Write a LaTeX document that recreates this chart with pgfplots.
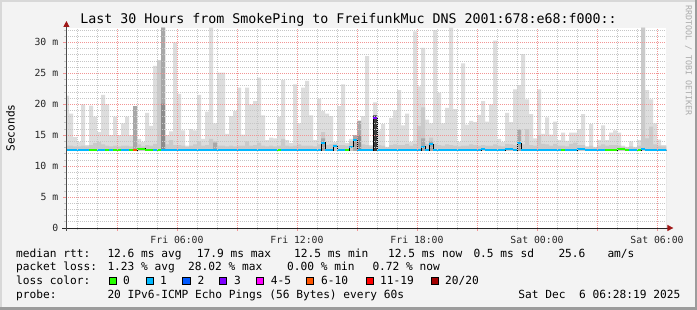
\documentclass[border=0pt]{standalone}
\usepackage{fontspec}
\setmainfont{DejaVu Sans Mono}
\usepackage{pgfplots}
\pgfplotsset{compat=1.18}
\usepackage{pgfplotstable}
\usetikzlibrary{arrows.meta}

\definecolor{bgc}{HTML}{F3F3F3}
\definecolor{frameL}{HTML}{D8D8D8}
\definecolor{frameD}{HTML}{9C9C9C}
\definecolor{smokeA}{HTML}{DDDDDD}
\definecolor{smokeB}{HTML}{CACACA}
\definecolor{smokeC}{HTML}{A8A8A8}
\definecolor{smokeD}{HTML}{8C8C8C}
\definecolor{smokeE}{HTML}{3C3C3C}
\definecolor{lblue}{HTML}{00B8FF}
\definecolor{lgreen}{HTML}{26FF00}
\definecolor{lblue2}{HTML}{0059FF}
\definecolor{lviolet}{HTML}{7E00FF}
\definecolor{lmag}{HTML}{FF00FF}
\definecolor{lorange}{HTML}{FF5500}
\definecolor{lred}{HTML}{FF0000}
\definecolor{ldred}{HTML}{A10000}
\definecolor{mgrid}{HTML}{F29595}
\definecolor{ngrid}{HTML}{C6C6C6}
\definecolor{arrowred}{HTML}{A01818}
\definecolor{rrdgray}{HTML}{ABABAB}

\newcommand\lf{\fontsize{11.2}{13}\selectfont}

\pgfplotstableread{
x mx md dk dkk vd med
0.4 21.4 13.3 0 0 0 12.55
0.6 18.5 13.3 0 0 0 12.55
0.8 14.7 13.2 0 0 0 12.55
1.0 13.9 13.2 0 0 0 12.55
1.2 20.0 13.3 0 0 0 12.55
1.4 13.4 13.2 0 0 0 12.55
1.6 19.8 13.4 0 0 0 12.55
1.8 18.0 13.7 0 0 0 12.55
2.0 15.5 13.9 0 0 0 12.55
2.2 21.5 13.5 0 0 0 12.55
2.4 20.0 13.3 0 0 0 12.55
2.6 15.0 13.2 0 0 0 12.55
2.8 18.0 13.3 0 0 0 12.55
3.0 15.0 13.2 0 0 0 12.55
3.2 16.9 13.3 0 0 0 12.55
3.4 18.0 13.3 0 0 0 12.55
3.6 15.0 13.2 0 0 0 12.55
3.8 19.7 19.7 19.7 0 0 12.6
4.0 14.4 13.5 0 0 0 12.8
4.2 13.9 13.2 0 0 0 12.8
4.4 18.6 13.4 0 0 0 12.55
4.6 16.5 13.3 0 0 0 12.55
4.8 26.2 13.6 0 0 0 12.55
5.0 27.1 27.1 0 0 0 12.55
5.2 32.4 32.4 32.4 20.1 0 12.55
5.4 15.0 13.5 0 0 0 12.55
5.6 15.6 14.2 0 0 0 12.55
5.8 30.0 13.4 0 0 0 12.55
6.0 21.7 13.4 0 0 0 12.55
6.2 15.8 13.3 0 0 0 12.55
6.4 13.3 13.1 0 0 0 12.55
6.6 16.0 13.3 0 0 0 12.55
6.8 15.8 13.5 0 0 0 12.55
7.0 21.5 14.0 0 0 0 12.55
7.2 14.4 13.3 0 0 0 12.55
7.4 18.8 13.4 0 0 0 12.55
7.6 32.4 14.4 0 0 0 12.55
7.8 16.9 14.0 13.8 0 0 12.55
8.0 25.1 13.3 0 0 0 12.55
8.2 25.1 13.3 0 0 0 12.55
8.4 15.2 13.2 0 0 0 12.55
8.6 18.1 13.3 0 0 0 12.55
8.8 18.9 13.2 0 0 0 12.55
9.0 22.7 13.3 0 0 0 12.55
9.2 15.1 13.3 0 0 0 12.55
9.4 22.7 14.0 0 0 0 12.55
9.6 20.0 13.3 0 0 0 12.65
9.8 20.5 13.4 0 0 0 12.55
10.0 24.3 13.8 0 0 0 12.55
10.2 18.2 13.3 0 0 0 12.55
10.4 14.2 13.2 0 0 0 12.55
10.6 14.6 13.3 0 0 0 12.55
10.8 14.5 13.2 0 0 0 12.55
11.0 18.0 13.3 0 0 0 12.55
11.2 23.9 14.4 0 0 0 12.55
11.4 14.2 13.3 0 0 0 12.55
11.6 13.7 13.2 0 0 0 12.55
11.8 23.2 13.3 0 0 0 12.55
12.0 16.9 13.5 0 0 0 12.55
12.2 22.7 13.3 0 0 0 12.55
12.4 23.8 13.3 0 0 0 12.55
12.6 18.2 13.3 0 0 0 12.55
12.8 14.2 13.2 0 0 0 12.55
13.0 20.9 13.5 0 0 0 12.55
13.2 18.9 15.5 14.5 0 0 13.8
13.4 18.5 13.4 0 0 0 12.55
13.6 18.1 13.5 0 0 0 12.55
13.8 13.9 13.6 0 0 0 13.2
14.0 19.7 13.4 0 0 0 12.55
14.2 23.2 13.4 0 0 0 12.55
14.4 13.7 13.3 0 0 0 12.55
14.6 14.4 14.0 0 0 0 13.1
14.8 15.0 15.0 15.0 0 0 14.3
15.0 17.3 17.3 17.3 15.0 0 12.55
15.2 18.1 13.5 0 0 0 12.55
15.4 27.8 13.4 0 0 0 12.55
15.6 13.4 13.2 0 0 0 12.55
15.8 20.3 18.2 0 0 18.2 17.8
16.0 15.8 13.4 0 0 0 12.55
16.2 16.8 13.3 0 0 0 12.55
16.4 13.1 13.0 0 0 0 12.55
16.6 17.8 13.4 0 0 0 12.55
16.8 19.0 13.5 0 0 0 12.55
17.0 22.3 13.4 0 0 0 12.55
17.2 16.6 13.4 0 0 0 12.55
17.4 18.5 13.6 0 0 0 12.55
17.6 13.9 13.3 0 0 0 12.55
17.8 31.8 13.6 0 0 0 12.55
18.0 22.9 16.5 0 0 0 12.55
18.2 29.1 19.5 14.5 0 0 13.1
18.4 17.5 13.6 0 0 0 12.55
18.6 16.9 14.6 14.0 0 0 13.5
18.8 32.0 13.6 0 0 0 12.55
19.0 21.9 13.4 0 0 0 12.55
19.2 16.9 13.3 0 0 0 12.55
19.4 19.4 13.5 0 0 0 12.55
19.6 32.4 13.4 0 0 0 12.55
19.8 19.2 13.3 0 0 0 12.55
20.0 13.9 13.2 0 0 0 12.55
20.2 26.6 13.3 0 0 0 12.55
20.4 16.7 13.3 0 0 0 12.55
20.6 17.3 13.5 0 0 0 12.55
20.8 17.1 13.4 0 0 0 12.55
21.0 18.3 13.3 0 0 0 12.55
21.2 20.5 13.4 0 0 0 12.7
21.4 17.2 13.3 0 0 0 12.55
21.6 20.0 13.3 0 0 0 12.55
21.8 30.3 13.5 0 0 0 12.55
22.0 14.4 13.3 0 0 0 12.55
22.2 13.9 13.2 0 0 0 12.55
22.4 18.6 13.6 0 0 0 12.7
22.6 17.1 13.5 0 0 0 12.7
22.8 22.4 13.4 0 0 0 12.55
23.0 23.1 16.0 15.9 0 0 13.7
23.2 28.1 13.5 0 0 0 12.55
23.4 20.8 16.0 0 0 0 12.55
23.6 18.4 13.4 0 0 0 12.55
23.8 14.5 13.3 0 0 0 12.55
24.0 22.4 15.0 0 0 0 12.55
24.2 15.2 13.6 0 0 0 12.55
24.4 17.9 13.5 0 0 0 12.55
24.6 15.1 13.3 0 0 0 12.55
24.8 17.2 13.6 0 0 0 12.55
25.0 14.2 13.3 0 0 0 12.55
25.2 15.4 13.3 0 0 0 12.55
25.4 14.1 13.2 0 0 0 12.55
25.6 15.4 13.6 0 0 0 12.55
25.8 15.4 13.8 0 0 0 12.55
26.0 16.0 13.4 0 0 0 12.75
26.2 18.4 13.4 0 0 0 12.75
26.4 13.2 13.1 0 0 0 12.55
26.6 16.8 13.3 0 0 0 12.55
26.8 13.1 13.0 0 0 0 12.55
27.0 14.2 13.3 0 0 0 12.55
27.2 16.6 13.5 0 0 0 12.55
27.4 14.2 13.3 0 0 0 12.55
27.6 15.4 13.4 0 0 0 12.55
27.8 15.8 13.4 0 0 0 12.55
28.0 15.4 13.3 0 0 0 12.75
28.2 13.3 13.1 0 0 0 12.75
28.4 13.1 13.0 0 0 0 12.55
28.6 14.0 13.2 0 0 0 12.55
28.8 13.1 13.0 0 0 0 12.55
29.0 14.2 13.3 0 0 0 12.55
29.2 32.4 32.4 0 0 0 12.7
29.4 22.3 14.5 0 0 0 12.55
29.6 20.8 16.4 0 0 0 12.55
29.8 16.9 13.5 0 0 0 12.55
30.0 14.3 13.3 0 0 0 12.55
30.2 13.4 13.2 0 0 0 12.55
30.4 13.4 13.2 0 0 0 12.55
30.6 13.4 13.2 0 0 0 12.55
}\smoke

\begin{document}
\frenchspacing
\begin{tikzpicture}
\useasboundingbox (0pt,0pt) rectangle (697pt,310pt);
\fill[bgc] (0pt,0pt) rectangle (697pt,310pt);
\fill[frameL] (0pt,308pt) rectangle (697pt,310pt);
\fill[frameL] (0pt,0pt) rectangle (2pt,310pt);
\fill[frameD] (694.5pt,0pt) rectangle (697pt,310pt);
\fill[frameD] (0pt,0pt) rectangle (697pt,2.5pt);

\begin{axis}[
  at={(66.4pt,82pt)}, anchor=south west,
  scale only axis, width=600pt, height=200pt,
  xmin=0.47, xmax=30.47, ymin=0, ymax=32.33,
  enlargelimits=false,
  axis on top,
  axis lines=left,
  axis background/.style={fill=white},
  xtick={3,6,...,30},
  xticklabels={,Fri 06:00,,Fri 12:00,,Fri 18:00,,Sat 00:00,,Sat 06:00},
  minor xtick={1,2,...,30},
  ytick={0,5,...,30},
  yticklabels={0,5 m,10 m,15 m,20 m,25 m,30 m},
  minor ytick={1,2,...,32},
  grid=both,
  major grid style={draw=mgrid, line width=0.65pt, dash pattern=on 1pt off 1pt},
  minor grid style={draw=ngrid, line width=0.65pt, dash pattern=on 1pt off 1pt},
  tick align=outside, major tick length=3pt, minor tick length=2pt,
  major tick style={draw=mgrid, line width=0.7pt},
  minor tick style={draw=ngrid, line width=0.7pt},
  x axis line style={draw=black!85, line width=0.75pt, shorten >=-7pt, shorten <=-4pt,
     -{Triangle[length=6pt,width=6pt,color=arrowred]}},
  y axis line style={draw=black!70, line width=0.75pt, shorten >=-7pt, shorten <=-3pt,
     -{Triangle[length=6pt,width=6pt,color=arrowred]}},
  tick label style={font=\fontsize{9.8}{11}\selectfont, text=black!85},
  xticklabel style={anchor=base, inner sep=0pt, yshift=-13pt},
  yticklabel style={anchor=east, inner sep=0pt, xshift=-5pt},
]
\addplot[const plot, fill=smokeA, draw=none] table[x=x,y=mx]{\smoke} \closedcycle;
\addplot[const plot, fill=smokeB, draw=none] table[x=x,y=md]{\smoke} \closedcycle;
\addplot[const plot, fill=smokeC, draw=none] table[x=x,y=dk]{\smoke} \closedcycle;
\addplot[const plot, fill=smokeD, draw=none] table[x=x,y=dkk]{\smoke} \closedcycle;
\addplot[const plot, fill=smokeE, draw=none] table[x=x,y=vd]{\smoke} \closedcycle;
\addplot[fill=white, draw=none] coordinates {(0,12.4) (31,12.4)} \closedcycle;
\addplot[const plot, draw=black, line width=1pt] table[x=x,y=med]{\smoke};
\addplot[jump mark left, draw=lblue, line width=2pt] table[x=x,y=med]{\smoke};
\addplot[draw=lgreen, line width=2pt, unbounded coords=jump] coordinates {
 (1.6,12.55) (2.0,12.55) (2.0,nan)
 (2.4,12.55) (2.6,12.55) (2.6,nan)
 (2.8,12.55) (3.2,12.55) (3.2,nan)
 (3.6,12.55) (3.8,12.55) (3.8,nan)
 (4.0,12.8) (4.4,12.8) (4.4,nan)
 (4.4,12.55) (4.8,12.55) (4.8,nan)
 (5.0,12.55) (5.2,12.55) (5.2,nan)
 (11.0,12.55) (11.2,12.55) (11.2,nan)
 (14.4,12.55) (14.6,12.55) (14.6,nan)
 (25.2,12.55) (25.4,12.55) (25.4,nan)
 (27.4,12.55) (28.0,12.55) (28.0,nan)
 (28.0,12.75) (28.4,12.75) (28.4,nan)
 (28.4,12.55) (28.6,12.55) (28.6,nan)
 (29.0,12.55) (29.2,12.55)
};
\addplot[draw=lorange, line width=2pt] coordinates {(3.8,12.6) (4.0,12.6)};
\addplot[draw=lviolet, line width=2pt] coordinates {(15.8,17.8) (16.0,17.8)};
\end{axis}

\node[anchor=base, inner sep=0pt, font=\fontsize{13.3}{15}\selectfont] at (348.5pt,286pt) {Last 30 Hours from SmokePing to FreifunkMuc DNS 2001:678:e68:f000::};
\node[rotate=90, inner sep=0pt, font=\lf] at (10.5pt,182pt) {Seconds};
\node[rotate=-90, anchor=west, inner sep=0pt, font=\fontsize{8.3}{9}\selectfont, text=rrdgray] at (688.5pt,305pt) {RRDTOOL / TOBI OETIKER};

\begin{scope}[every node/.style={anchor=base west, inner sep=0pt, font=\lf}]
\node at (16pt,52.5pt) {median rtt:};
\node at (107.3pt,52.5pt) {12.6 ms avg};
\node at (196.7pt,52.5pt) {17.9 ms max};
\node at (294pt,52.5pt) {12.5 ms min};
\node at (388pt,52.5pt) {12.5 ms now};
\node at (473.3pt,52.5pt) {0.5 ms sd};
\node at (558.3pt,52.5pt) {25.6};
\node at (607.3pt,52.5pt) {am/s};
\node at (16pt,39pt) {packet loss:};
\node at (107.3pt,39pt) {1.23 \% avg};
\node at (188pt,39pt) {28.02 \% max};
\node at (287pt,39pt) {0.00 \% min};
\node at (372.3pt,39pt) {0.72 \% now};
\node at (16pt,25pt) {loss color:};
\node at (123pt,25pt) {0};
\node at (160pt,25pt) {1};
\node at (197.3pt,25pt) {2};
\node at (234pt,25pt) {3};
\node at (270.7pt,25pt) {4-5};
\node at (321pt,25pt) {6-10};
\node at (380pt,25pt) {11-19};
\node at (445pt,25pt) {20/20};
\node at (16pt,11pt) {probe:};
\node at (107.3pt,11pt) {20 IPv6-ICMP Echo Pings (56 Bytes) every 60s};
\node[anchor=base east] at (680.5pt,11pt) {Sat Dec~~6 06:28:19 2025};
\end{scope}
\begin{scope}[line width=0.8pt]
\draw[fill=lgreen] (109pt,25.3pt) rectangle +(7.3pt,7.3pt);
\draw[fill=lblue] (146pt,25.3pt) rectangle +(7.3pt,7.3pt);
\draw[fill=lblue2] (182.6pt,25.3pt) rectangle +(7.3pt,7.3pt);
\draw[fill=lviolet] (219.3pt,25.3pt) rectangle +(7.3pt,7.3pt);
\draw[fill=lmag] (256.3pt,25.3pt) rectangle +(7.3pt,7.3pt);
\draw[fill=lorange] (306.3pt,25.3pt) rectangle +(7.3pt,7.3pt);
\draw[fill=lred] (366pt,25.3pt) rectangle +(7.3pt,7.3pt);
\draw[fill=ldred] (431pt,25.3pt) rectangle +(7.3pt,7.3pt);
\end{scope}
\end{tikzpicture}
\end{document}
